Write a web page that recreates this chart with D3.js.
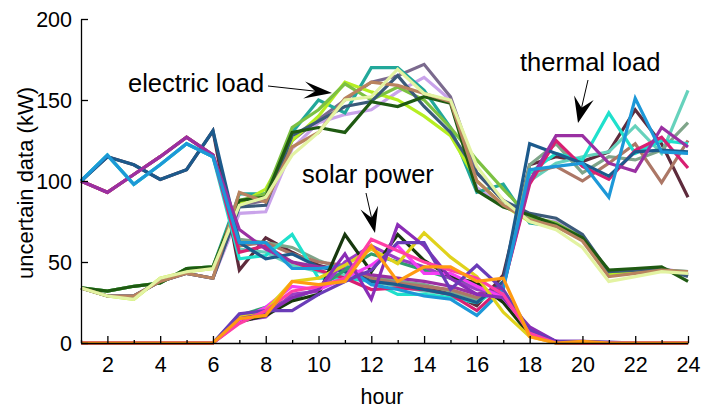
<!DOCTYPE html>
<html lang="en">
<head>
    <meta charset="UTF-8">
    <script src="https://d3js.org/d3.v7.min.js"></script>
    <style>
        body { margin: 0; background: #fff; }
        text { font-family: "Liberation Sans", Arial, sans-serif; fill: #000; }
    </style>
</head>
<body>
    <svg width="701" height="412"></svg>

    <script>
        let hours = [1, 2, 3, 4, 5, 6, 7, 8, 9, 10, 11, 12, 13, 14, 15, 16, 17, 18, 19, 20, 21, 22, 23, 24];
        let xTickLabels = [2, 4, 6, 8, 10, 12, 14, 16, 18, 20, 22, 24];
        let yTickLabels = [0, 50, 100, 150, 200];

        // electric load scenarios
        let electricLoad = [
            [34, 29, 29, 38, 43, 40, 80, 81, 120, 136, 141, 144, 155, 164, 150, 96, 85, 76, 75, 66, 42, 44, 46, 43],
            [34, 29, 29, 38, 43, 40, 85, 88, 125, 138, 150, 161, 165, 172, 152, 105, 88, 76, 73, 64, 43, 44, 46, 42],
            [34, 32, 35, 37, 46, 47, 92, 92, 130, 150, 142, 170, 170, 156, 133, 93, 98, 74, 72, 66, 42, 44, 45, 44],
            [34, 29, 27, 40, 44, 46, 86, 95, 125, 140, 161, 155, 150, 140, 128, 100, 85, 75, 72, 64, 42, 44, 45, 43],
            [34, 32, 35, 37, 46, 47, 88, 92, 133, 144, 160, 150, 158, 150, 133, 113, 95, 78, 74, 65, 44, 45, 46, 42],
            [34, 29, 29, 38, 43, 40, 84, 85, 128, 137, 146, 149, 165, 146, 130, 105, 88, 80, 77, 67, 44, 45, 46, 41],
            [34, 32, 35, 37, 46, 47, 88, 90, 130, 133, 130, 149, 146, 152, 148, 94, 84, 79, 73, 65, 45, 46, 47, 38],
            [34, 29, 29, 38, 43, 40, 93, 87, 121, 130, 151, 161, 159, 154, 149, 100, 85, 76, 72, 63, 41, 43, 45, 44],
            [34, 29, 27, 40, 44, 46, 85, 90, 116, 130, 150, 152, 169, 154, 150, 109, 88, 75, 70, 59, 38, 41, 44, 43]
        ];
        let electricColors = ['#c9a3ea', '#7b6a8e', '#22a89a', '#b6ee22', '#7cc142', '#3b5a7a', '#1f5a12', '#b9835f', '#e3f3a2'];

        // thermal load scenarios
        let thermalLoad = [
            [100, 115, 110, 101, 107, 131, 45, 65, 56, 48, 44, 40, 36, 34, 31, 23, 42, 110, 115, 112, 118, 144, 123, 90],
            [100, 116, 98, 110, 123, 115, 58, 56, 48, 44, 42, 38, 35, 32, 30, 26, 36, 100, 111, 115, 118, 134, 117, 156],
            [100, 93, 104, 115, 127, 116, 64, 62, 59, 51, 45, 42, 38, 36, 32, 27, 37, 110, 123, 105, 115, 113, 119, 136],
            [100, 93, 104, 115, 127, 116, 60, 62, 55, 50, 48, 40, 37, 35, 33, 28, 36, 105, 109, 100, 111, 123, 99, 125],
            [100, 116, 98, 110, 123, 115, 52, 54, 67, 40, 40, 38, 30, 30, 28, 25, 35, 105, 117, 113, 142, 117, 125, 123],
            [100, 93, 104, 115, 127, 116, 56, 60, 50, 45, 40, 33, 34, 33, 30, 20, 35, 98, 125, 109, 101, 119, 127, 108],
            [100, 115, 110, 101, 107, 131, 62, 52, 55, 47, 44, 38, 36, 33, 30, 25, 38, 123, 117, 111, 103, 118, 119, 118],
            [100, 93, 104, 115, 127, 116, 70, 58, 50, 47, 46, 42, 40, 38, 35, 30, 35, 100, 128, 128, 111, 106, 133, 121],
            [100, 116, 98, 110, 123, 115, 62, 62, 46, 46, 48, 36, 33, 29, 27, 17, 33, 107, 109, 111, 90, 151, 118, 117]
        ];
        let thermalColors = ['#5e2b3c', '#66d2bc', '#7fa58a', '#ac7766', '#1fe0cc', '#d81f72', '#1c5a8c', '#9a30a2', '#1d98d8'];

        // solar power scenarios
        let solarPower = [
            [0, 0, 0, 0, 0, 0, 17, 22, 27, 34, 45, 55, 50, 45, 40, 35, 27, 6, 0, 0, 0, 0, 0, 0],
            [0, 0, 0, 0, 0, 0, 14, 16, 30, 32, 50, 60, 52, 47, 40, 33, 30, 7, 1, 0, 0, 0, 0, 0],
            [0, 0, 0, 0, 0, 0, 13, 17, 26, 30, 67, 44, 67, 51, 41, 37, 25, 5, 0, 0, 0, 0, 0, 0],
            [0, 0, 0, 0, 0, 0, 14, 22, 35, 33, 40, 48, 60, 43, 43, 35, 28, 8, 1, 0, 0, 0, 0, 0],
            [0, 0, 0, 0, 0, 0, 16, 20, 38, 40, 48, 58, 49, 68, 53, 41, 19, 4, 0, 0, 0, 0, 0, 0],
            [0, 0, 0, 0, 0, 0, 15, 18, 28, 33, 55, 27, 73, 60, 40, 30, 28, 10, 1, 1, 0, 0, 0, 0],
            [0, 0, 0, 0, 0, 0, 18, 20, 20, 30, 38, 45, 62, 62, 33, 48, 33, 8, 1, 1, 0.5, 0, 0, 0],
            [0, 0, 0, 0, 0, 0, 12, 20, 32, 35, 40, 64, 57, 50, 45, 40, 30, 6, 0, 0, 0, 0, 0, 0],
            [0, 0, 0, 0, 0, 0, 15, 17, 38, 36, 38, 60, 38, 47, 47, 38, 40, 4, 0, 1, 0, 0, 0, 0]
        ];
        let solarColors = ['#2f9e6e', '#9a3ec4', '#17380e', '#f43ef4', '#e0d21c', '#8a2db6', '#6a3cb8', '#ff3fa6', '#ff9b12'];

        let svg = d3.select("svg");

        let x = d3.scaleLinear().domain([1, 24]).range([81, 688]);
        let y = d3.scaleLinear().domain([0, 200]).range([343, 19]);

        let line = d3.line()
            .x((d, i) => x(hours[i]))
            .y(d => y(d));

        // draw order: electric, thermal, then solar on top
        let groups = [
            [electricLoad, electricColors],
            [thermalLoad, thermalColors],
            [solarPower, solarColors]
        ];
        groups.forEach(([series, colors]) => {
            svg.append("g")
                .selectAll("path")
                .data(series)
                .enter()
                .append("path")
                .attr("fill", "none")
                .attr("stroke", (d, i) => colors[i])
                .attr("stroke-width", 3.2)
                .attr("stroke-linejoin", "miter")
                .attr("d", line);
        });

        // axes, ticks pointing inward
        let xAxis = svg.append("g")
            .attr("transform", "translate(0," + y(0) + ")")
            .call(d3.axisBottom(x).tickValues(xTickLabels).tickSizeInner(-7).tickSizeOuter(0).tickPadding(14));
        svg.append("g")
            .attr("transform", "translate(0," + y(0) + ")")
            .call(d3.axisBottom(x).tickValues(hours.filter(h => h % 2 == 1)).tickSize(-3).tickFormat(""))
            .select(".domain").remove();
        let yAxis = svg.append("g")
            .attr("transform", "translate(" + x(1) + ",0)")
            .call(d3.axisLeft(y).tickValues(yTickLabels).tickSizeInner(-7).tickSizeOuter(0).tickPadding(9));

        svg.selectAll(".domain, .tick line").attr("stroke", "#000").attr("stroke-width", 1.3);
        xAxis.selectAll("text").attr("font-size", 21.5).attr("font-family", "Liberation Sans, Arial, sans-serif");
        yAxis.selectAll("text").attr("font-size", 21.5).attr("font-family", "Liberation Sans, Arial, sans-serif").attr("dy", "0.36em");

        svg.append("text")
            .attr("x", 382).attr("y", 404)
            .attr("text-anchor", "middle")
            .attr("font-size", 21.5)
            .text("hour");
        svg.append("text")
            .attr("transform", "translate(33,183) rotate(-90)")
            .attr("text-anchor", "middle")
            .attr("font-size", 22)
            .text("uncertain data (kW)");

        // annotations with arrows
        function arrow(x1, y1, x2, y2, len, wid) {
            let a = Math.atan2(y2 - y1, x2 - x1);
            let ux = Math.cos(a), uy = Math.sin(a);
            let px = -uy, py = ux;
            let bx = x2 - ux * len, by = y2 - uy * len;
            let nx = x2 - ux * len * 0.6, ny = y2 - uy * len * 0.6;
            svg.append("line")
                .attr("x1", x1).attr("y1", y1).attr("x2", nx).attr("y2", ny)
                .attr("stroke", "#000").attr("stroke-width", 1);
            svg.append("path")
                .attr("d", "M" + x2 + "," + y2 +
                    "L" + (bx + px * wid / 2) + "," + (by + py * wid / 2) +
                    "L" + nx + "," + ny +
                    "L" + (bx - px * wid / 2) + "," + (by - py * wid / 2) + "Z")
                .attr("fill", "#000");
        }

        svg.append("text").attr("x", 128).attr("y", 92).attr("font-size", 25.5).text("electric load");
        arrow(268, 86, 332, 93, 28, 17);
        svg.append("text").attr("x", 302).attr("y", 183).attr("font-size", 25.5).text("solar power");
        arrow(366, 193, 375, 233, 26, 18);
        svg.append("text").attr("x", 520).attr("y", 71).attr("font-size", 25.5).text("thermal load");
        arrow(588, 80, 578, 123, 26, 20);
    </script>
</body>
</html>
